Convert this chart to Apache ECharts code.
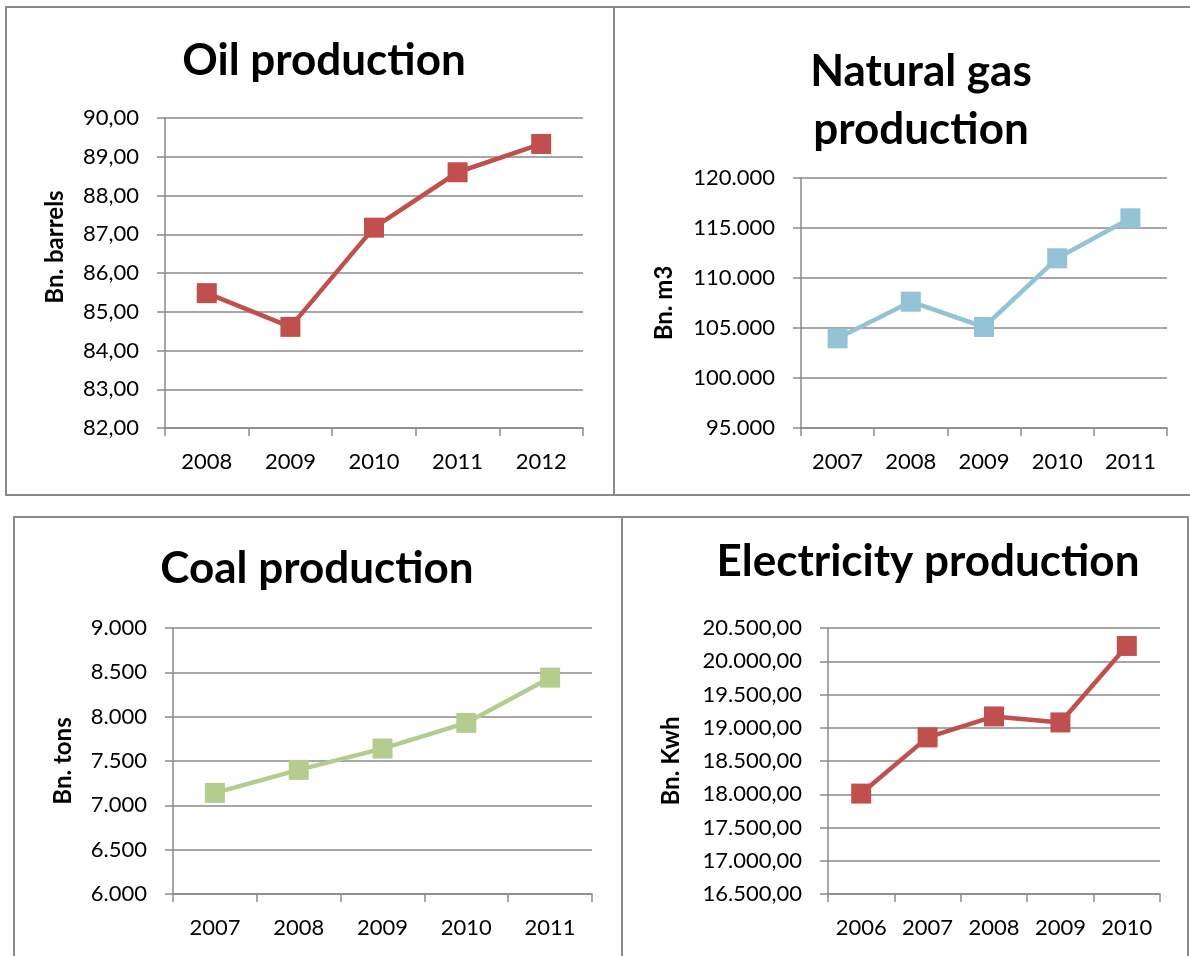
<!DOCTYPE html>
<html><head><meta charset="utf-8">
<script src="https://cdn.jsdelivr.net/npm/echarts@6/dist/echarts.min.js"></script>
<style>html,body{margin:0;padding:0;background:#fff}#c{width:1190px;height:956px}</style>
</head><body><div id="c"></div>
<script>
// ---- data ----
const oilYears = ['2008', '2009', '2010', '2011', '2012'];
const oilValues = [85.48, 84.61, 87.17, 88.60, 89.33];
const oilTicks = ['82,00', '83,00', '84,00', '85,00', '86,00', '87,00', '88,00', '89,00', '90,00'];

const gasYears = ['2007', '2008', '2009', '2010', '2011'];
const gasValues = [103970, 107630, 105100, 111970, 115970];
const gasTicks = ['95.000', '100.000', '105.000', '110.000', '115.000', '120.000'];

const coalYears = ['2007', '2008', '2009', '2010', '2011'];
const coalValues = [7140, 7400, 7640, 7930, 8440];
const coalTicks = ['6.000', '6.500', '7.000', '7.500', '8.000', '8.500', '9.000'];

const elecYears = ['2006', '2007', '2008', '2009', '2010'];
const elecValues = [18010, 18855, 19170, 19080, 20230];
const elecTicks = ['16.500,00', '17.000,00', '17.500,00', '18.000,00', '18.500,00', '19.000,00', '19.500,00', '20.000,00', '20.500,00'];

// ---- layout / style ----
const FONT = 'Lato';
const GRAY = '#8a8a8a';
const panels = [
  { title: 'Oil production', tx: 324, ty: 32, name: 'Bn. barrels', namePad: [0, 0, 0, 52], years: oilYears, values: oilValues, ticks: oilTicks,
    min: 82, max: 90, interval: 1, color: '#C0504D', grid: { left: 165, top: 118, width: 418, height: 310 }, nameGap: 98 },
  { title: 'Natural gas\nproduction', tx: 921, ty: 43, name: 'Bn. m3', namePad: 0, years: gasYears, values: gasValues, ticks: gasTicks,
    min: 95000, max: 120000, interval: 5000, color: '#93C3D5', grid: { left: 801, top: 178, width: 366, height: 250 }, nameGap: 125 },
  { title: 'Coal production', tx: 317, ty: 540, name: 'Bn. tons', namePad: 0, years: coalYears, values: coalValues, ticks: coalTicks,
    min: 6000, max: 9000, interval: 500, color: '#B4CC8E', grid: { left: 173, top: 628, width: 419, height: 266 }, nameGap: 98 },
  { title: 'Electricity production', tx: 928, ty: 533, name: 'Bn. Kwh', namePad: 0, years: elecYears, values: elecValues, ticks: elecTicks,
    min: 16500, max: 20500, interval: 500, color: '#C0504D', grid: { left: 828, top: 628, width: 332, height: 266 }, nameGap: 145 }
];

const option = {
  backgroundColor: '#fff',
  animation: false,
  title: panels.map(p => ({
    text: p.title, left: p.tx, top: p.ty, textAlign: 'center', padding: 0,
    textStyle: { fontFamily: FONT, fontWeight: 'bold', fontSize: 44, color: '#000', lineHeight: 58 }
  })),
  grid: panels.map(p => Object.assign({ containLabel: false }, p.grid)),
  xAxis: panels.map((p, i) => ({
    type: 'category', gridIndex: i, data: p.years, boundaryGap: true,
    axisLine: { show: true, lineStyle: { color: GRAY, width: 1.5 } },
    axisTick: { show: true, length: 8, lineStyle: { color: GRAY, width: 1.5 } },
    axisLabel: { fontFamily: FONT, fontSize: 22, color: '#000', margin: 23 },
    splitLine: { show: false }
  })),
  yAxis: panels.map((p, i) => ({
    type: 'value', gridIndex: i, min: p.min, max: p.max, interval: p.interval,
    name: p.name, nameLocation: 'middle', nameGap: p.nameGap,
    nameTextStyle: { fontFamily: FONT, fontWeight: 'bold', fontSize: 24, color: '#000', padding: p.namePad },
    axisLine: { show: true, lineStyle: { color: GRAY, width: 1.5 } },
    axisTick: { show: true, length: 8, lineStyle: { color: GRAY, width: 1.5 } },
    axisLabel: { fontFamily: FONT, fontSize: 22, color: '#000', margin: 26,
      formatter: v => p.ticks[Math.round((v - p.min) / p.interval)] },
    splitLine: { show: true, lineStyle: { color: GRAY, width: 1.5 } }
  })),
  series: panels.map((p, i) => ({
    type: 'line', xAxisIndex: i, yAxisIndex: i, data: p.values,
    symbol: 'rect', symbolSize: 20,
    lineStyle: { color: p.color, width: 4.5 },
    itemStyle: { color: p.color },
    z: 3
  })),
  graphic: [
    { type: 'rect', shape: { x: 6, y: 7, width: 1200, height: 488 }, style: { fill: null, stroke: GRAY, lineWidth: 2 }, z: -1, silent: true },
    { type: 'line', shape: { x1: 614, y1: 7, x2: 614, y2: 495 }, style: { stroke: GRAY, lineWidth: 2 }, z: -1, silent: true },
    { type: 'rect', shape: { x: 14, y: 517, width: 1174, height: 500 }, style: { fill: null, stroke: GRAY, lineWidth: 2 }, z: -1, silent: true },
    { type: 'line', shape: { x1: 622, y1: 517, x2: 622, y2: 960 }, style: { stroke: GRAY, lineWidth: 2 }, z: -1, silent: true }
  ]
};

const chart = echarts.init(document.getElementById('c'), null, { renderer: 'canvas' });
chart.setOption(option);
</script>
</body></html>
